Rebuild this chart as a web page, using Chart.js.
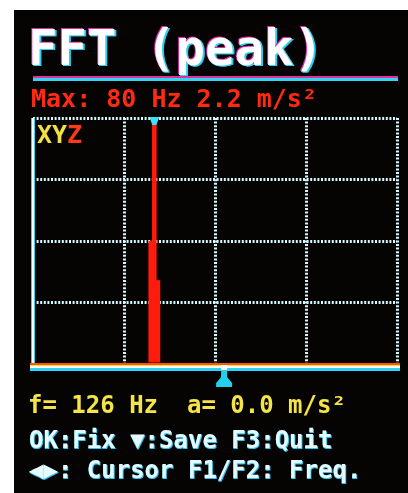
<!DOCTYPE html>
<html>
<head>
<meta charset="utf-8">
<script src="https://cdn.jsdelivr.net/npm/chart.js@4.4.1/dist/chart.umd.min.js"></script>
<style>
  html, body { margin: 0; padding: 0; background: #ffffff; }
  body { width: 408px; height: 493px; position: relative; overflow: hidden; }
  #screen { position: absolute; left: 14px; top: 10px; width: 394px; height: 483px; background: #060303; }
  .t { position: absolute; white-space: pre; font-family: "DejaVu Sans Mono", monospace; font-weight: bold; line-height: 1; z-index: 3; }
  #title { left: 28px; top: 24px; font-size: 49px; color: #ffffff;
           text-shadow: -1px -1px 0 #e02aa8, 1px 1px 0 #28d0f4, 2px 1px 0 #28d0f4; }
  #maxline { left: 31px; top: 86px; font-size: 25px; color: #ff2a12; }
  #xyz { left: 37px; top: 122px; font-size: 25px; color: #f2e040; }
  #xyz span { color: #ff3a14; }
  #fline { left: 28px; top: 393px; font-size: 24px; color: #f4e448; }
  .cy { color: #e4faff; text-shadow: 1px 1px 0 #2cc4f0, 0 1px 0 #2cc4f0; }
  #okline { left: 29px; top: 428px; font-size: 24px; }
  #curline { left: 29px; top: 458px; font-size: 24px; }
  #rule1 { position: absolute; left: 33px; top: 76px; width: 365px; height: 2px; background: #e0309a; }
  #rule2 { position: absolute; left: 33px; top: 78px; width: 365px; height: 3px; background: #34d4f4; }
  #c { position: absolute; left: 0; top: 0; z-index: 2; }
</style>
</head>
<body>
<div id="screen"></div>
<div class="t" id="title">FFT (peak)</div>
<div id="rule1"></div><div id="rule2"></div>
<div class="t" id="maxline">Max: 80 Hz 2.2 m/s²</div>
<div class="t" id="xyz">XY<span>Z</span></div>
<div class="t" id="fline">f= 126 Hz  a= 0.0 m/s²</div>
<div class="t cy" id="okline">OK:Fix ▼:Save F3:Quit</div>
<div class="t cy" id="curline">◀▶: Cursor F1/F2: Freq.</div>
<canvas id="c" width="408" height="493"></canvas>
<script>
// ---- data ----
const freqBins  = [77.6, 80, 82.4];      // Hz
const amplitude = [1.1, 2.2, 0.75];      // m/s²
const xTicks = [0, 60, 120, 180, 240];   // Hz grid
const yTicks = [0, 0.55, 1.1, 1.65, 2.2];
const peakFreq = 80;
const cursorFreq = 126;

const points = freqBins.map((f, i) => ({ x: f, y: amplitude[i] }));

const decor = {
  id: 'decor',
  afterDraw(chart) {
    const ctx = chart.ctx;
    const xs = chart.scales.x, ys = chart.scales.y;
    const x0 = xs.getPixelForValue(0);
    const x1 = xs.getPixelForValue(240);
    const y0 = ys.getPixelForValue(0);
    const yTop = ys.getPixelForValue(2.2);
    ctx.save();
    // left axis (solid)
    ctx.fillStyle = '#38d0f0';
    ctx.fillRect(x0 - 2, yTop, 4, y0 - yTop + 5);
    ctx.fillStyle = '#f2ffff';
    ctx.fillRect(x0 - 1, yTop, 2, y0 - yTop + 4);
    // bottom axis band
    ctx.fillStyle = '#ff5412'; ctx.fillRect(x0 - 3, y0 - 1, x1 - x0 + 6, 2);
    ctx.fillStyle = '#ffd84a'; ctx.fillRect(x0 - 3, y0 + 1, x1 - x0 + 6, 1);
    ctx.fillStyle = '#fffbe8'; ctx.fillRect(x0 - 3, y0 + 2, x1 - x0 + 6, 2);
    ctx.fillStyle = '#2ed4ff'; ctx.fillRect(x0 - 3, y0 + 4, x1 - x0 + 6, 3);
    // peak marker at top
    const px = xs.getPixelForValue(peakFreq);
    ctx.fillStyle = '#3ee0f4';
    ctx.beginPath();
    ctx.moveTo(px - 5, yTop - 1);
    ctx.lineTo(px + 5, yTop - 1);
    ctx.lineTo(px + 2, yTop + 7);
    ctx.lineTo(px - 2, yTop + 7);
    ctx.closePath();
    ctx.fill();
    // cursor marker below axis
    const cx = xs.getPixelForValue(cursorFreq);
    ctx.fillStyle = '#f4ffff';
    ctx.fillRect(cx - 3, y0 + 1, 6, 5);
    ctx.fillStyle = '#22d0ec';
    ctx.beginPath();
    ctx.moveTo(cx - 3, y0 + 6);
    ctx.lineTo(cx + 3, y0 + 6);
    ctx.lineTo(cx + 3, y0 + 13);
    ctx.lineTo(cx + 8, y0 + 19);
    ctx.lineTo(cx + 8, y0 + 23);
    ctx.lineTo(cx - 8, y0 + 23);
    ctx.lineTo(cx - 8, y0 + 19);
    ctx.lineTo(cx - 3, y0 + 13);
    ctx.closePath();
    ctx.fill();
    ctx.restore();
  }
};

new Chart(document.getElementById('c'), {
  type: 'bar',
  data: {
    datasets: [{
      data: points,
      backgroundColor: '#ff1c0c',
      borderWidth: 0,
      barPercentage: 1.25,
      categoryPercentage: 1
    }]
  },
  options: {
    responsive: false,
    animation: false,
    layout: { padding: { left: 33, top: 118, right: 11, bottom: 129 } },
    plugins: { legend: { display: false }, tooltip: { enabled: false }, title: { display: false } },
    scales: {
      x: {
        type: 'linear', min: 0, max: 240, offset: false,
        grid: { offset: false, color: '#d4faff', lineWidth: 3, drawTicks: false },
        border: { display: false, dash: [2, 1.6] },
        ticks: { display: false },
        afterBuildTicks: s => { s.ticks = xTicks.map(v => ({ value: v })); }
      },
      y: {
        min: 0, max: 2.2,
        grid: { color: '#d4faff', lineWidth: 3, drawTicks: false },
        border: { display: false, dash: [2, 1.6] },
        ticks: { display: false },
        afterBuildTicks: s => { s.ticks = yTicks.map(v => ({ value: v })); }
      }
    }
  },
  plugins: [decor]
});
</script>
</body>
</html>
